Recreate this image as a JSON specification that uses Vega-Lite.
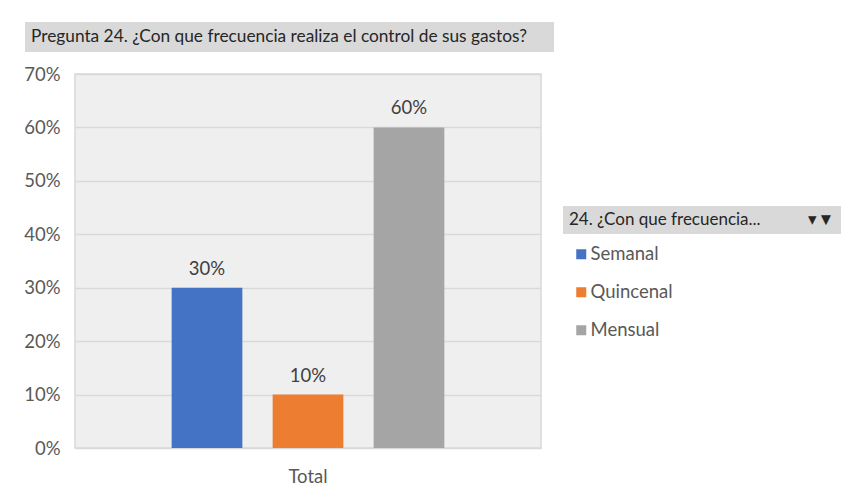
{
  "$schema": "https://vega.github.io/schema/vega-lite/v6.json",
  "width": 466,
  "height": 374,
  "autosize": {"type": "none"},
  "padding": {"left": 75, "top": 74, "right": 306, "bottom": 52},
  "background": "white",
  "config": {
    "font": "Lato",
    "view": {"fill": "#efefef", "stroke": "#d9d9d9", "strokeWidth": 1.5}
  },
  "data": {
    "values": [
      {"categoria": "Total", "frecuencia": "Semanal", "porcentaje": 0.30},
      {"categoria": "Total", "frecuencia": "Quincenal", "porcentaje": 0.10},
      {"categoria": "Total", "frecuencia": "Mensual", "porcentaje": 0.60}
    ]
  },
  "encoding": {
    "x": {
      "field": "categoria",
      "type": "nominal",
      "scale": {"paddingInner": 0, "paddingOuter": 0.269},
      "axis": {"title": null, "labelAngle": 0, "labelFontSize": 18.5, "labelColor": "#595959", "labelPadding": 19, "ticks": false, "domain": false}
    },
    "xOffset": {
      "field": "frecuencia",
      "type": "nominal",
      "sort": ["Semanal", "Quincenal", "Mensual"],
      "scale": {"paddingInner": 0.3, "paddingOuter": 0.15}
    },
    "y": {
      "field": "porcentaje",
      "type": "quantitative",
      "scale": {"domain": [0, 0.7]},
      "axis": {
        "title": null,
        "format": ".0%",
        "values": [0, 0.1, 0.2, 0.3, 0.4, 0.5, 0.6, 0.7],
        "labelFontSize": 18.5,
        "labelColor": "#595959",
        "labelPadding": 15,
        "ticks": false,
        "domain": false,
        "gridColor": "#d9d9d9",
        "gridWidth": 1.5
      }
    }
  },
  "layer": [
    {
      "mark": {"type": "bar"},
      "encoding": {
        "color": {
          "field": "frecuencia",
          "type": "nominal",
          "scale": {"domain": ["Semanal", "Quincenal", "Mensual"], "range": ["#4472C4", "#ED7D31", "#A5A5A5"]},
          "legend": {
            "orient": "none",
            "legendX": 497,
            "legendY": 171,
            "title": null,
            "symbolType": "square",
            "symbolSize": 100,
            "symbolStrokeWidth": 0,
            "labelFontSize": 18.5,
            "labelColor": "#595959",
            "labelOffset": 0,
            "rowPadding": 19,
            "padding": 0
          }
        },
        "opacity": {
          "field": "categoria",
          "type": "ordinal",
          "scale": {"range": [1, 1]},
          "legend": {
            "orient": "none",
            "legendX": 488,
            "legendY": 132,
            "title": "24. ¿Con que frecuencia...\u00a0\u00a0\u00a0\u00a0\u00a0\u00a0\u00a0\u00a0\u00a0\u00a0\u00a0\u25BE\u25BC",
            "titleFont": "Lato",
            "titleFontSize": 17,
            "titleFontWeight": "normal",
            "titleColor": "#262626",
            "titlePadding": 0,
            "titleLimit": 1000,
            "fillColor": "#d9d9d9",
            "padding": 6,
            "values": []
          }
        },
        "strokeWidth": {
          "field": "porcentaje",
          "type": "quantitative",
          "scale": {"range": [0, 0]},
          "legend": {
            "orient": "none",
            "legendX": -50,
            "legendY": -52,
            "title": "Pregunta 24. ¿Con que frecuencia realiza el control de sus gastos?\u00a0\u00a0\u2800",
            "titleFont": "Lato",
            "titleFontSize": 17.3,
            "titleFontWeight": "normal",
            "titleColor": "#262626",
            "titlePadding": 0,
            "titleLimit": 1000,
            "fillColor": "#d9d9d9",
            "padding": 6,
            "values": []
          }
        }
      }
    },
    {
      "mark": {"type": "text", "baseline": "middle", "dy": -19, "fontSize": 18.5, "color": "#404040"},
      "encoding": {
        "text": {"field": "porcentaje", "type": "quantitative", "format": ".0%"}
      }
    }
  ]
}
